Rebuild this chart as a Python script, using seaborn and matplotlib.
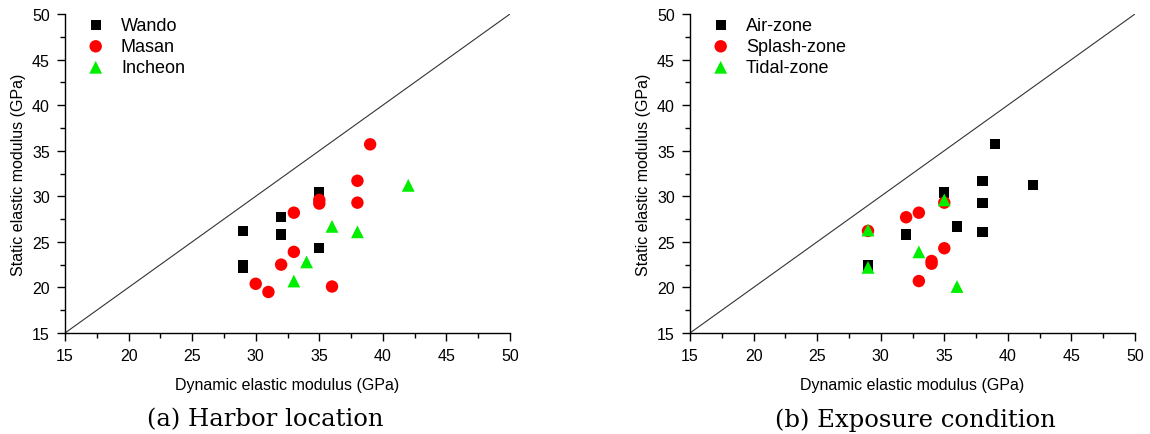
import numpy as np
import pandas as pd
import matplotlib
matplotlib.use("Agg")
import matplotlib.pyplot as plt
import seaborn as sns
from matplotlib.ticker import MultipleLocator

# ---- data: panel (a) Harbor location ----
wando_x = [29, 29, 29, 32, 32, 35, 35]
wando_y = [26.2, 22.4, 22.1, 27.7, 25.8, 30.5, 24.3]
masan_x = [39, 38, 38, 35, 35, 33, 33, 32, 30, 31, 36]
masan_y = [35.7, 31.7, 29.3, 29.6, 29.2, 28.2, 23.9, 22.5, 20.4, 19.5, 20.1]
incheon_x = [42, 36, 38, 34, 33]
incheon_y = [31.2, 26.7, 26.1, 22.8, 20.7]

# ---- data: panel (b) Exposure condition ----
air_x = [39, 38, 42, 35, 38, 36, 38, 32, 29]
air_y = [35.7, 31.7, 31.2, 30.4, 29.3, 26.7, 26.1, 25.8, 22.4]
splash_x = [35, 33, 32, 29, 35, 34, 34, 33]
splash_y = [29.3, 28.2, 27.7, 26.2, 24.3, 22.6, 22.9, 20.7]
tidal_x = [35, 29, 33, 29, 36]
tidal_y = [29.6, 26.3, 23.9, 22.2, 20.1]

labels_a = ["Wando", "Masan", "Incheon"]
labels_b = ["Air-zone", "Splash-zone", "Tidal-zone"]
titles = ["(a) Harbor location", "(b) Exposure condition"]
xlabel = "Dynamic elastic modulus (GPa)"
ylabel = "Static elastic modulus (GPa)"

def frame(groups, labels):
    rows = []
    for (xs, ys), lab in zip(groups, labels):
        for x, y in zip(xs, ys):
            rows.append({"x": x, "y": y, "group": lab})
    return pd.DataFrame(rows)

df_a = frame([(wando_x, wando_y), (masan_x, masan_y), (incheon_x, incheon_y)], labels_a)
df_b = frame([(air_x, air_y), (splash_x, splash_y), (tidal_x, tidal_y)], labels_b)

sns.set_theme(style="ticks")
plt.rcParams["font.family"] = ["Liberation Sans", "DejaVu Sans"]
plt.rcParams["text.color"] = "black"
plt.rcParams["axes.labelcolor"] = "black"
plt.rcParams["xtick.color"] = "black"
plt.rcParams["ytick.color"] = "black"

fig = plt.figure(figsize=(11.5, 4.35), dpi=100)
W, H = 1150, 435
axes = [fig.add_axes([65 / W, 1 - 334 / H, 445 / W, 319 / H]),
        fig.add_axes([690 / W, 1 - 334 / H, 445 / W, 319 / H])]
title_x = [265, 915]

colors = ["#000000", "#FF0000", "#00EE00"]
markers = ["s", "o", "^"]
sizes = [55, 80, 85]

for ax, df, labs, title, tx in zip(axes, [df_a, df_b], [labels_a, labels_b], titles, title_x):
    ax.plot([15, 50], [15, 50], color="#333333", lw=0.8, zorder=1)
    for lab, c, m, s in zip(labs, colors, markers, sizes):
        sub = df[df["group"] == lab]
        sns.scatterplot(data=sub, x="x", y="y", color=c, marker=m, s=s,
                        edgecolor="none", linewidth=0, ax=ax, label=lab, zorder=3)
    ax.set_xlim(15, 50)
    ax.set_ylim(15, 50)
    ax.xaxis.set_major_locator(MultipleLocator(5))
    ax.yaxis.set_major_locator(MultipleLocator(5))
    ax.xaxis.set_minor_locator(MultipleLocator(2.5))
    ax.yaxis.set_minor_locator(MultipleLocator(2.5))
    ax.tick_params(which="major", direction="out", length=6, width=1, labelsize=11.5, pad=5)
    ax.tick_params(which="minor", direction="out", length=3.5, width=1)
    for sp in ["top", "right"]:
        ax.spines[sp].set_visible(False)
    for sp in ["left", "bottom"]:
        ax.spines[sp].set_color("black")
        ax.spines[sp].set_linewidth(1)
    ax.set_xlabel(xlabel, fontsize=11.5, labelpad=10)
    ax.set_ylabel(ylabel, fontsize=11.5, labelpad=4)
    ax.legend(loc="upper left", frameon=False, fontsize=13,
              handletextpad=0.4, labelspacing=0.22, borderaxespad=0.3,
              bbox_to_anchor=(0.0, 1.03))
    fig.text(tx / W, 1 - 420 / H, title, ha="center", va="center",
             fontsize=17.5, family=["DejaVu Serif"])
    ax.set_facecolor("white")

fig.savefig("out.png", dpi=100, facecolor="white")
